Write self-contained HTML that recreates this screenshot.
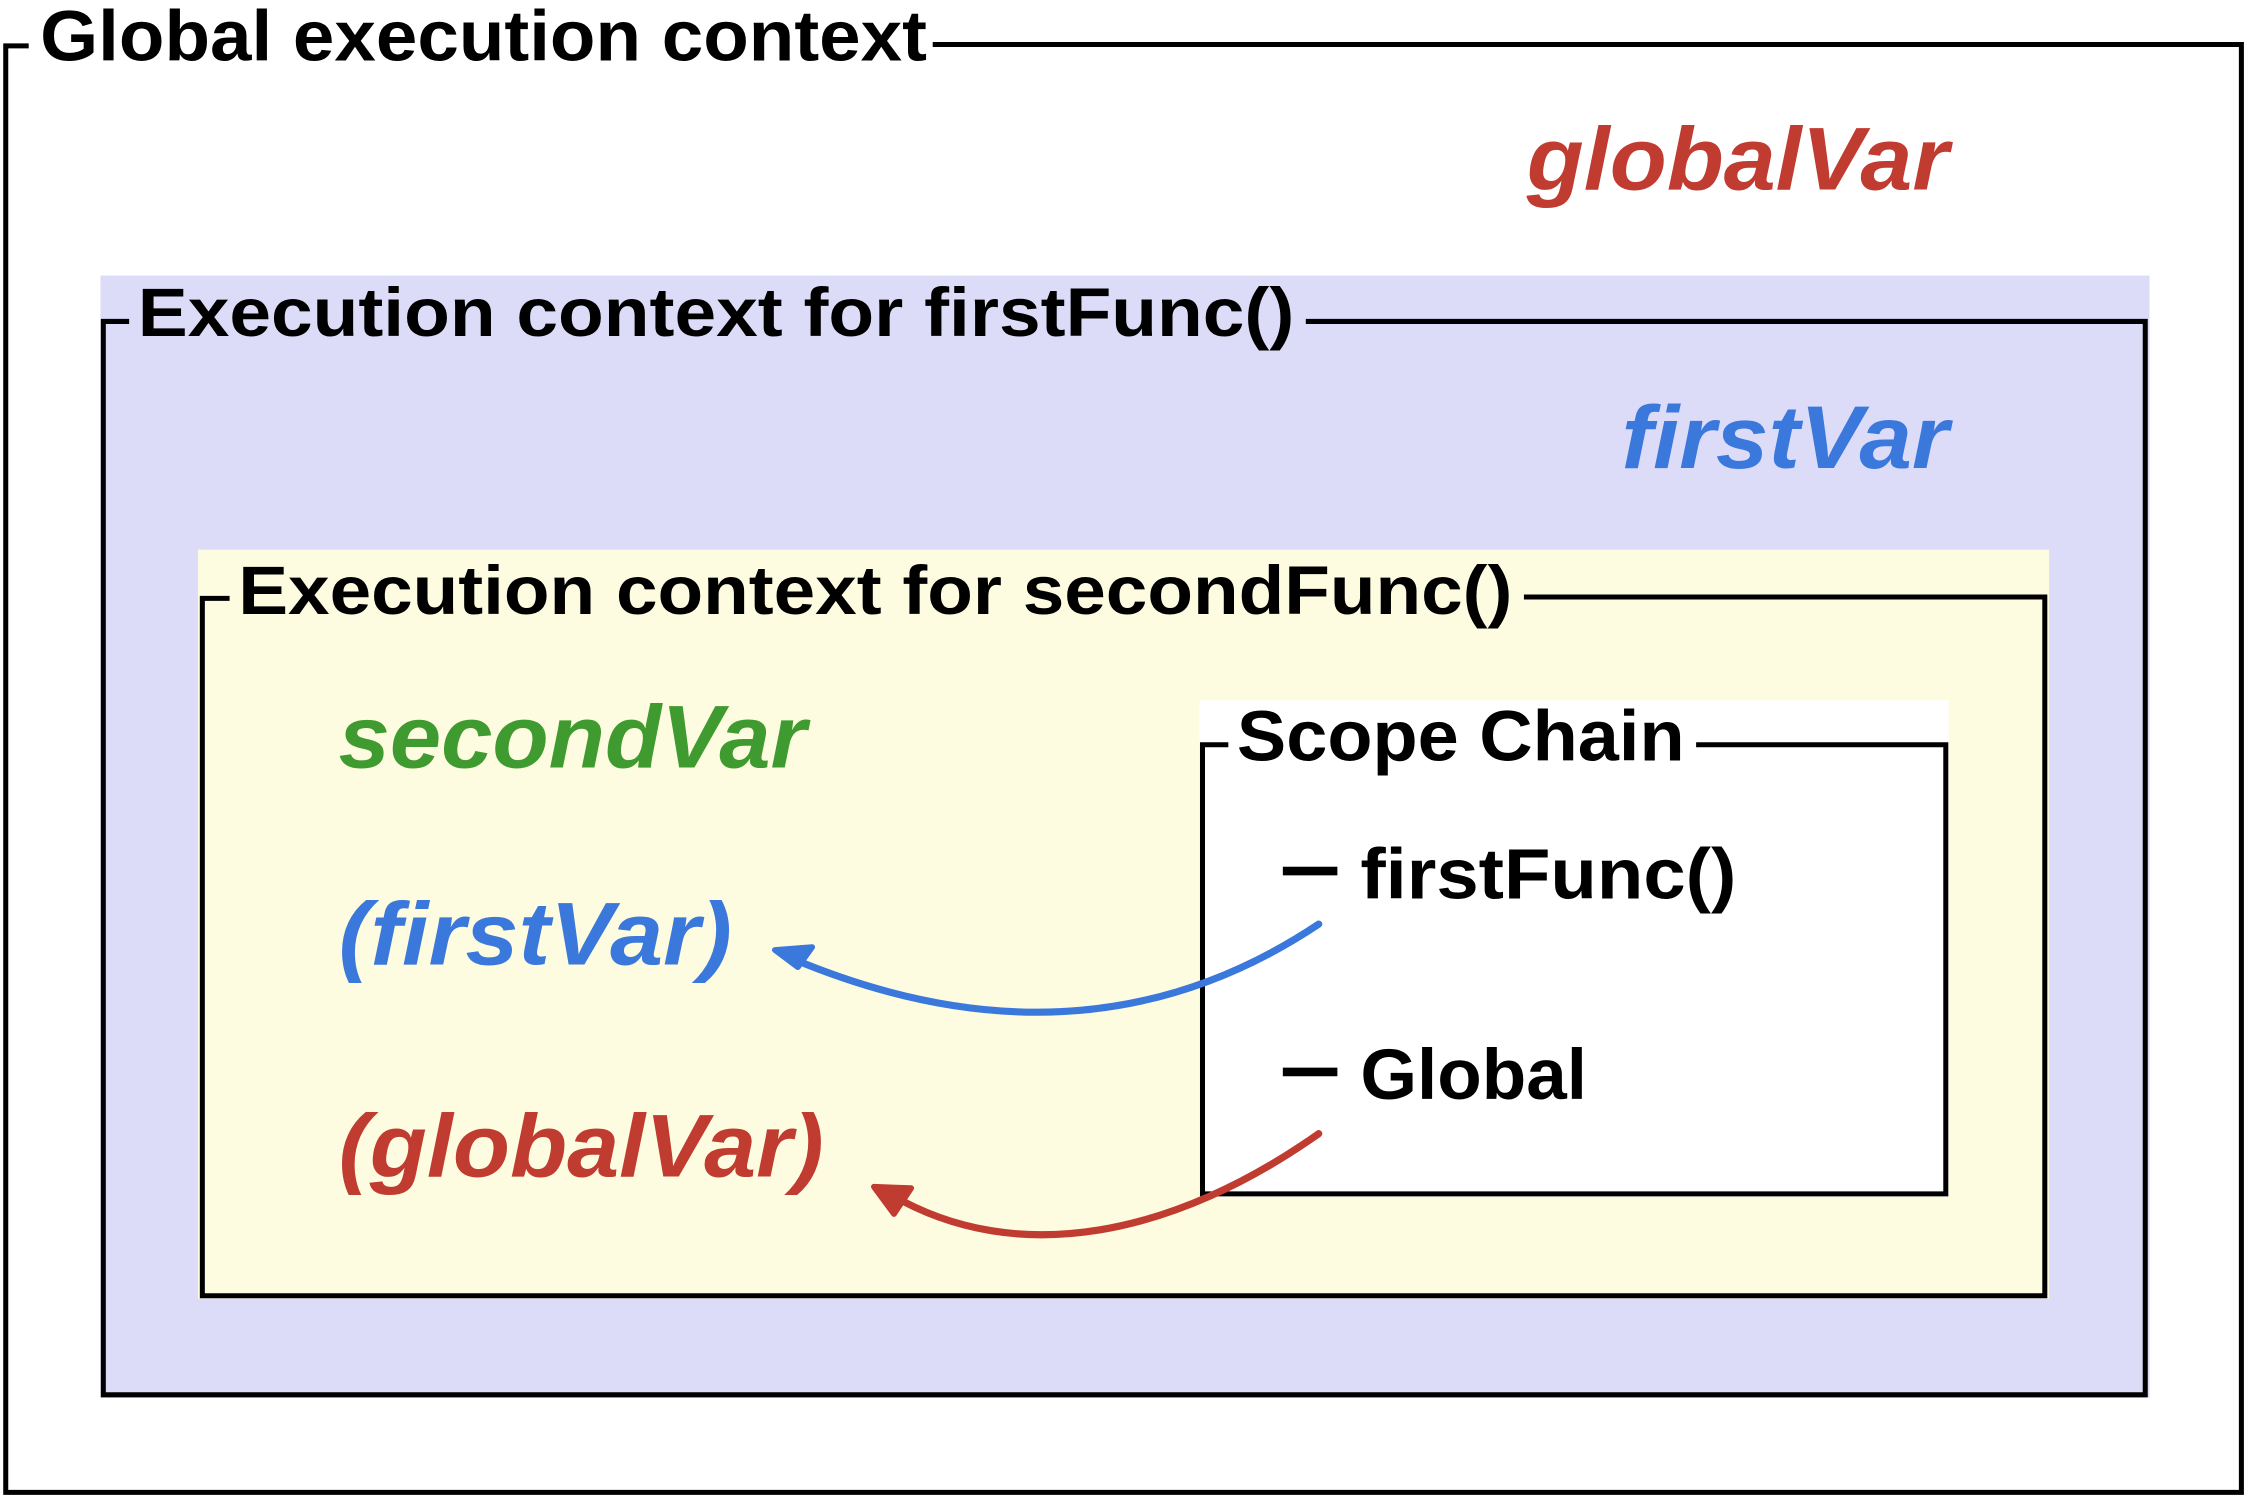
<!DOCTYPE html>
<html><head><meta charset="utf-8"><style>
html,body{margin:0;padding:0;background:#fff;}
svg{display:block;}
text{font-family:"Liberation Sans",sans-serif;font-weight:bold;}
</style></head><body>
<svg width="2250" height="1501" viewBox="0 0 1568 1046" preserveAspectRatio="none" xmlns="http://www.w3.org/2000/svg">
<rect x="0" y="0" width="1568" height="1046" fill="#fff"/>
<path d="M650 31 L1562 31 L1562 1040 L4 1040 L4 32 L20 32" fill="none" stroke="#000" stroke-width="3.5"/>
<text x="28" y="42" font-size="50" textLength="618" lengthAdjust="spacingAndGlyphs" fill="#000">Global execution context</text>
<text x="1064" y="132" font-size="62" font-style="italic" textLength="294" lengthAdjust="spacingAndGlyphs" fill="#c03b30">globalVar</text>
<rect x="70" y="192" width="1428" height="782" fill="#dcdcf9"/>
<path d="M910 224 L1495 224 L1495 972 L72 972 L72 224 L90 224" fill="none" stroke="#000" stroke-width="3.5"/>
<text x="96" y="234" font-size="48" textLength="806" lengthAdjust="spacingAndGlyphs" fill="#000">Execution context for firstFunc()</text>
<text x="1130" y="326" font-size="62" font-style="italic" textLength="228" lengthAdjust="spacingAndGlyphs" fill="#3b78dc">firstVar</text>
<rect x="138" y="383" width="1290" height="522" fill="#fefce0"/>
<path d="M1062 416 L1425 416 L1425 903 L141 903 L141 417 L160 417" fill="none" stroke="#000" stroke-width="3.5"/>
<text x="166" y="428" font-size="48" textLength="888" lengthAdjust="spacingAndGlyphs" fill="#000">Execution context for secondFunc()</text>
<text x="236" y="535" font-size="62" font-style="italic" textLength="326" lengthAdjust="spacingAndGlyphs" fill="#3f9b2f">secondVar</text>
<text x="236" y="672" font-size="62" font-style="italic" textLength="274" lengthAdjust="spacingAndGlyphs" fill="#3b78dc">(firstVar)</text>
<text x="236" y="820" font-size="62" font-style="italic" textLength="338" lengthAdjust="spacingAndGlyphs" fill="#c03b30">(globalVar)</text>
<rect x="836" y="488" width="522" height="346" fill="#fff"/>
<path d="M1182 519 L1356 519 L1356 832 L838 832 L838 519 L856 519" fill="none" stroke="#000" stroke-width="3.5"/>
<text x="862" y="530" font-size="50" textLength="312" lengthAdjust="spacingAndGlyphs" fill="#000">Scope Chain</text>
<rect x="894" y="604" width="38" height="6" fill="#000"/>
<text x="948" y="626" font-size="50" textLength="262" lengthAdjust="spacingAndGlyphs" fill="#000">firstFunc()</text>
<rect x="894" y="744" width="38" height="6" fill="#000"/>
<text x="948" y="766" font-size="50" textLength="158" lengthAdjust="spacingAndGlyphs" fill="#000">Global</text>
<path d="M919 644 C820 710 700 730 552 668" fill="none" stroke="#3b78dc" stroke-width="5" stroke-linecap="round"/>
<path d="M540 662 L566 660 L556 674 Z" fill="#3b78dc" stroke="#3b78dc" stroke-width="4" stroke-linejoin="round"/>
<path d="M919 790 C820 860 710 885 620 832" fill="none" stroke="#c03b30" stroke-width="5" stroke-linecap="round"/>
<path d="M609 827 L635 828 L623 846 Z" fill="#c03b30" stroke="#c03b30" stroke-width="4" stroke-linejoin="round"/>
</svg>
</body></html>
